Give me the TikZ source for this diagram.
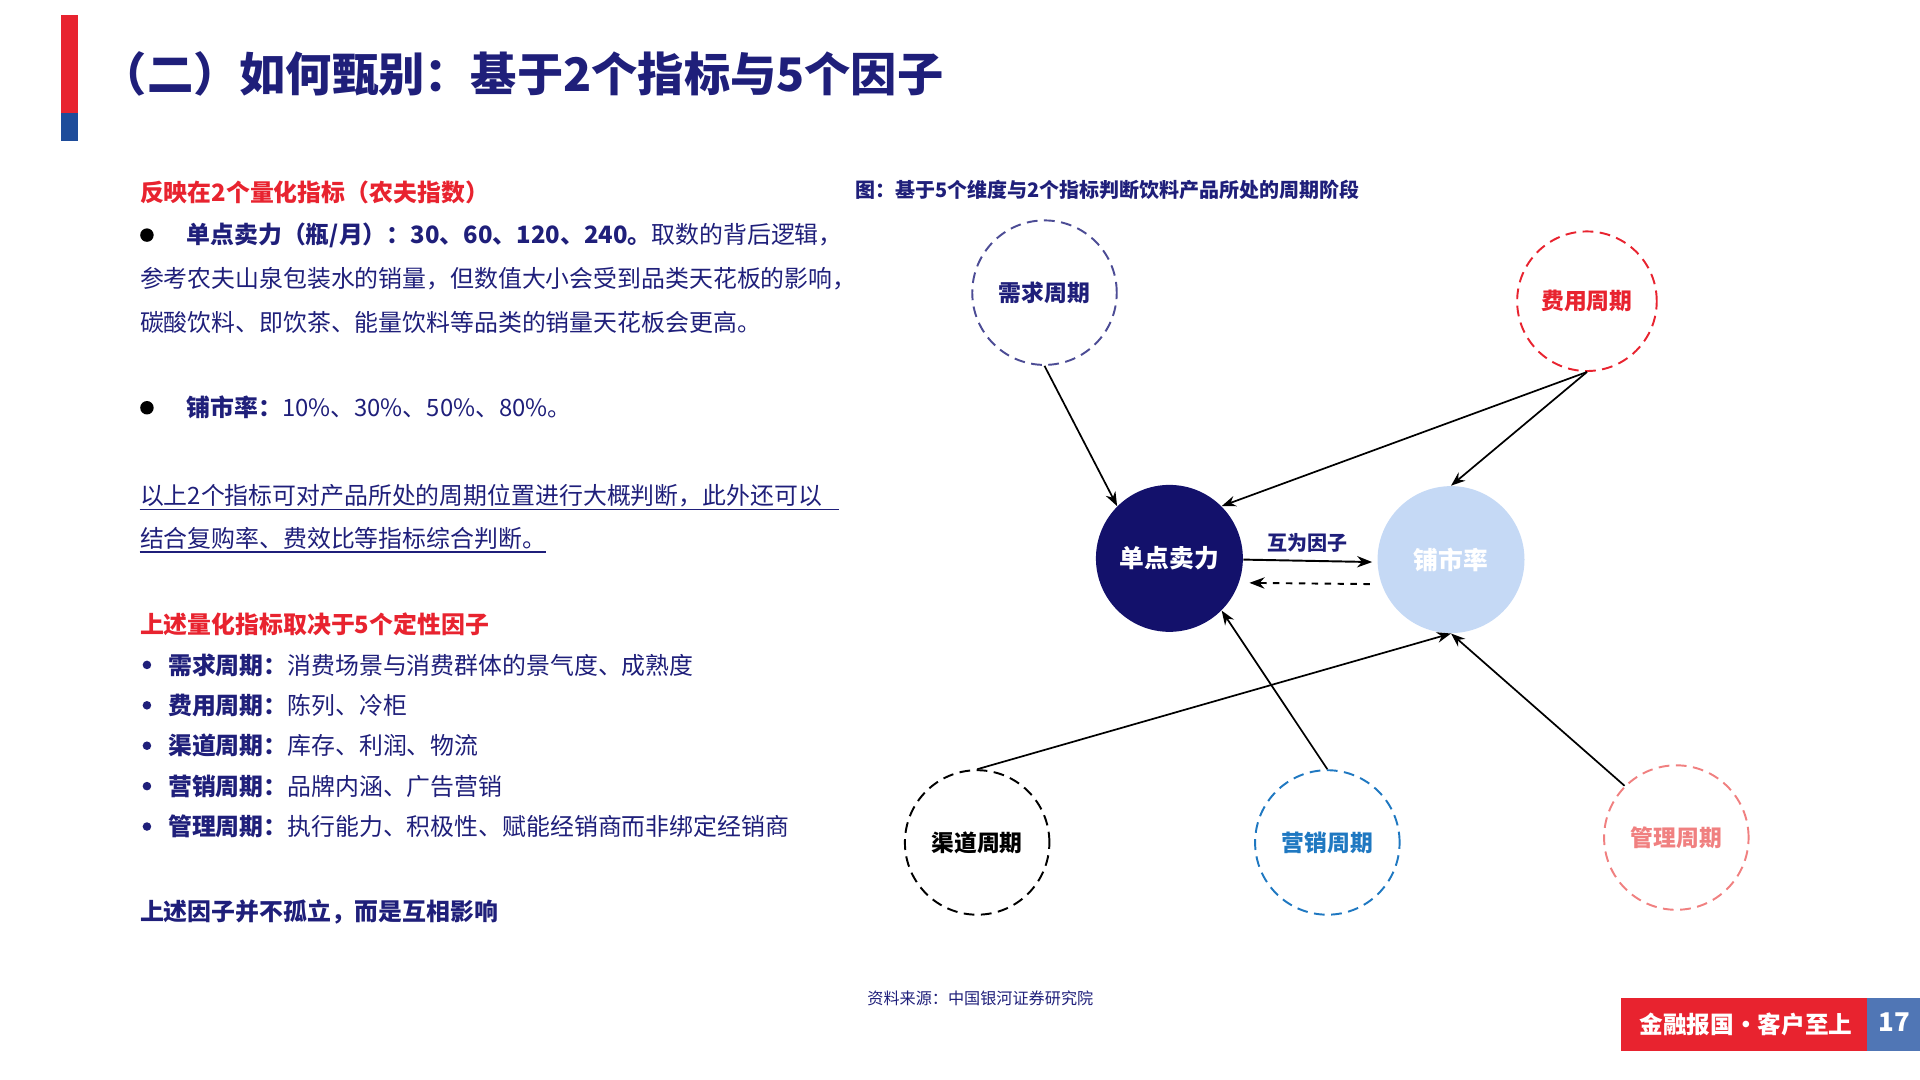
\documentclass[tikz,border=0pt]{standalone}
\usepackage{fontspec}
\setmainfont{Noto Sans CJK SC}
\usetikzlibrary{positioning,arrows.meta}
\definecolor{navy}{HTML}{1F1F7A}
\definecolor{dnavy}{HTML}{13116B}
\definecolor{lblue}{HTML}{C5D9F5}
\definecolor{mblue}{HTML}{1F78C1}
\definecolor{pink}{HTML}{F08080}
\definecolor{rred}{HTML}{E8232F}
\definecolor{barblue}{HTML}{1E4C9A}
\begin{document}
\begin{tikzpicture}[x=0.02cm,y=-0.02cm,>=Stealth,
    body/.style={anchor=west,inner sep=0pt,text=navy,font=\fontsize{11.1}{12}\selectfont},
    head/.style={body,text=rred,font=\fontsize{11.1}{12}\selectfont\bfseries},
    cyc/.style={circle,draw,dash pattern=on 5pt off 3pt,line width=0.9pt,minimum size=118*0.02cm,inner sep=0pt,font=\fontsize{10.6}{12}\selectfont\bfseries},
    idx/.style={circle,minimum size=120*0.02cm,inner sep=0pt,text=white,font=\fontsize{11.5}{12}\selectfont\bfseries},
    dot/.style={circle,fill=navy,inner sep=0pt,minimum size=7*0.02cm}]
\useasboundingbox (0,0) rectangle (1568,882);
\fill[rred] (50,12) rectangle (64,92);
\fill[barblue] (50,92) rectangle (64,115);
\node[body,text=navy,font=\fontsize{21.5}{24}\selectfont\bfseries] (title) at (82,60) {（二）如何甄别：基于2个指标与5个因子};
% left column
\node[head] (h1) at (114,157) {反映在2个量化指标（农夫指数）};
\node[dot,fill=black,minimum size=11*0.02cm] (b1) at (120,192) {};
\node[body] (t1) at (152,192) {\bfseries 单点卖力（瓶/月）：30、60、120、240。\mdseries 取数的背后逻辑，};
\node[body] (t2) at (114,228) {参考农夫山泉包装水的销量，但数值大小会受到品类天花板的影响，};
\node[body] (t3) at (114,263) {碳酸饮料、即饮茶、能量饮料等品类的销量天花板会更高。};
\node[dot,fill=black,minimum size=11*0.02cm] (b2) at (120,333) {};
\node[body] (t4) at (152,333) {\bfseries 铺市率：\mdseries 10\%、30\%、50\%、80\%。};
\node[body] (t5) at (114,405) {以上2个指标可对产品所处的周期位置进行大概判断，此外还可以};
\node[body] (t6) at (114,440) {结合复购率、费效比等指标综合判断。};
\draw[navy,line width=0.8pt] (114,416) -- (685,416) (114,451) -- (446,451);
\node[head] (h2) at (114,510) {上述量化指标取决于5个定性因子};
\foreach \y/\a/\b in {543/需求周期/消费场景与消费群体的景气度、成熟度,
                      576/费用周期/陈列、冷柜,
                      609/渠道周期/库存、利润、物流,
                      642/营销周期/品牌内涵、广告营销,
                      675/管理周期/执行能力、积极性、赋能经销商而非绑定经销商}{
  \node[dot] at (120,\y) {};
  \node[body] at (137,\y) {\bfseries\a：\mdseries\b};
}
\node[body,font=\fontsize{11.1}{12}\selectfont\bfseries] (t7) at (114,745) {上述因子并不孤立，而是互相影响};
% figure
\node[body,font=\fontsize{9.3}{10}\selectfont\bfseries] (cap) at (698,155) {图：基于5个维度与2个指标判断饮料产品所处的周期阶段};
\node[cyc,draw=navy!80,text=navy] (demand) at (853,239) {需求周期};
\node[cyc,draw=rred,text=rred,minimum size=114*0.02cm] (cost) at (1296,246) {费用周期};
\node[idx,fill=dnavy] (sell) at (955,456) {单点卖力};
\node[idx,fill=lblue] (rate) at (1185,457) {铺市率};
\node[cyc,draw=black,text=black] (chan) at (798,688) {渠道周期};
\node[cyc,draw=mblue,text=mblue] (mkt) at (1084,688) {营销周期};
\node[cyc,draw=pink,text=pink] (mgmt) at (1369,684) {管理周期};
\draw[->,thick] (demand.south) -- (sell.north west);
\draw[->,thick] (cost.south) -- (sell.north east);
\draw[->,thick] (cost.south) -- (rate.north);
\draw[->,thick] (chan.north) -- (rate.south);
\draw[->,thick] (mkt.north) -- (sell.south east);
\draw[->,thick] (mgmt.north west) -- (rate.south);
\draw[->,line width=0.9pt] ([yshift=-1*0.02cm]sell.east) -- node[above,text=navy,font=\fontsize{9.3}{10}\selectfont\bfseries] {互为因子} ([yshift=-2*0.02cm,xshift=-4*0.02cm]rate.west);
\draw[->,dashed,line width=0.9pt] ([yshift=-20*0.02cm,xshift=-6*0.02cm]rate.west) -- ([yshift=-20*0.02cm,xshift=5*0.02cm]sell.east);
% footer
\node[body,font=\fontsize{7.5}{9}\selectfont] (src) at (708,815) {资料来源：中国银河证券研究院};
\fill[rred] (1324,815) rectangle (1525,858);
\fill[barblue!70!lblue] (1525,815) rectangle (1568,858);
\node[text=white,font=\fontsize{11}{12}\selectfont\bfseries] (motto) at (1426,837) {金融报国·客户至上};
\node[text=white,font=\fontsize{12}{12}\selectfont\bfseries] (page) at (1547,835) {17};
\end{tikzpicture}
\end{document}
